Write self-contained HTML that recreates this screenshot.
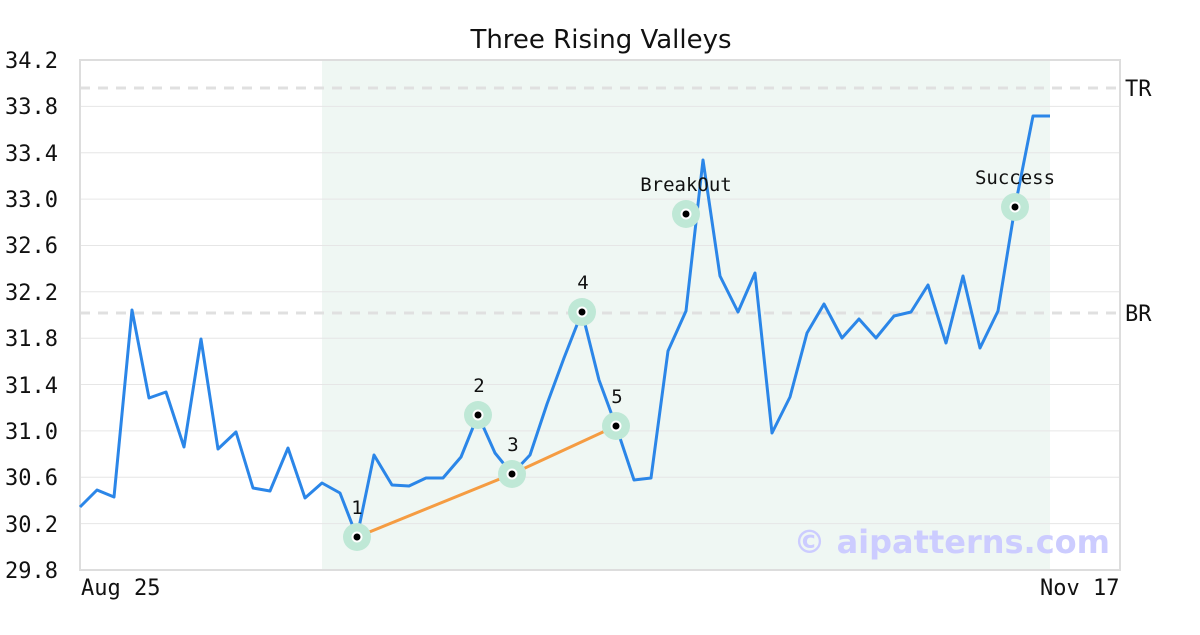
<!DOCTYPE html>
<html><head><meta charset="utf-8"><style>body{margin:0;background:#fff}</style></head><body>
<svg width="1200" height="630" xmlns="http://www.w3.org/2000/svg">
<rect width="1200" height="630" fill="#fff"/>
<rect x="322" y="61" width="728" height="509" fill="#eff7f3"/>
<g stroke="#e6e6e6" stroke-width="1">
<line x1="80" x2="1120" y1="106.4" y2="106.4"/><line x1="80" x2="1120" y1="152.7" y2="152.7"/>
<line x1="80" x2="1120" y1="199.1" y2="199.1"/><line x1="80" x2="1120" y1="245.5" y2="245.5"/>
<line x1="80" x2="1120" y1="291.8" y2="291.8"/><line x1="80" x2="1120" y1="338.2" y2="338.2"/>
<line x1="80" x2="1120" y1="384.5" y2="384.5"/><line x1="80" x2="1120" y1="430.9" y2="430.9"/>
<line x1="80" x2="1120" y1="477.3" y2="477.3"/><line x1="80" x2="1120" y1="523.6" y2="523.6"/>
</g>
<g stroke="#e0e0e0" stroke-width="3" stroke-dasharray="10,8">
<line x1="80" x2="1120" y1="88" y2="88"/><line x1="80" x2="1120" y1="313" y2="313"/>
</g>
<rect x="80" y="60" width="1040" height="510" fill="none" stroke="#ddd" stroke-width="2"/>
<g font-family="DejaVu Sans Mono, Liberation Mono, monospace" font-size="22" fill="#111" text-anchor="end">
<text x="58" y="68">34.2</text><text x="58" y="114">33.8</text><text x="58" y="161">33.4</text>
<text x="58" y="207">33.0</text><text x="58" y="253">32.6</text><text x="58" y="300">32.2</text>
<text x="58" y="346">31.8</text><text x="58" y="393">31.4</text><text x="58" y="439">31.0</text>
<text x="58" y="485">30.6</text><text x="58" y="532">30.2</text><text x="58" y="578">29.8</text>
</g>
<g font-family="DejaVu Sans Mono, Liberation Mono, monospace" font-size="22" fill="#111">
<text x="1125" y="96">TR</text><text x="1125" y="321">BR</text>
<text x="81" y="595">Aug 25</text><text x="1040" y="595">Nov 17</text>
</g>
<text x="601" y="48" text-anchor="middle" font-family="DejaVu Sans, Liberation Sans, sans-serif" font-size="26" fill="#111">Three Rising Valleys</text>
<text x="1110" y="553" text-anchor="end" font-family="DejaVu Sans, Liberation Sans, sans-serif" font-size="32" font-weight="bold" fill="#ccccff">© aipatterns.com</text>
<polyline fill="none" stroke="#2b86e8" stroke-width="3" stroke-linejoin="round" points="80,507 97,490 114,497 132,310 149,398 166,392 184,447 201,339 218,449 236,432 253,488 270,491 288,448 305,498 322,483 340,493 357,537 374,455 392,485 409,486 426,478 443,478 461,457 478,415 495,453 512,474 530,455 547,404 564,358 582,312 599,380 616,426 634,480 651,478 668,351 686,311 703,160 720,276 738,312 755,273 772,433 790,397 807,333 824,304 842,338 859,319 876,338 894,316 911,312 928,285 946,343 963,276 980,348 998,311 1015,207 1033,116 1050,116"/>
<polyline fill="none" stroke="#f59c42" stroke-width="3" points="357,537 512,474 616,426"/>
<g fill="#bfe8d6">
<circle cx="357" cy="537" r="14"/><circle cx="478" cy="415" r="14"/><circle cx="512" cy="474" r="14"/>
<circle cx="582" cy="312" r="14"/><circle cx="616" cy="426" r="14"/><circle cx="686" cy="214" r="14"/><circle cx="1015" cy="207" r="14"/>
</g>
<g fill="#000" stroke="#fff" stroke-width="2">
<circle cx="357" cy="537" r="4.5"/><circle cx="478" cy="415" r="4.5"/><circle cx="512" cy="474" r="4.5"/>
<circle cx="582" cy="312" r="4.5"/><circle cx="616" cy="426" r="4.5"/><circle cx="686" cy="214" r="4.5"/><circle cx="1015" cy="207" r="4.5"/>
</g>
<g font-family="DejaVu Sans Mono, Liberation Mono, monospace" font-size="19" fill="#111" text-anchor="middle">
<text x="357" y="514">1</text><text x="479" y="392">2</text><text x="513" y="451">3</text>
<text x="583" y="289">4</text><text x="617" y="403">5</text><text x="686" y="191">BreakOut</text><text x="1015" y="184">Success</text>
</g>
</svg>
</body></html>
